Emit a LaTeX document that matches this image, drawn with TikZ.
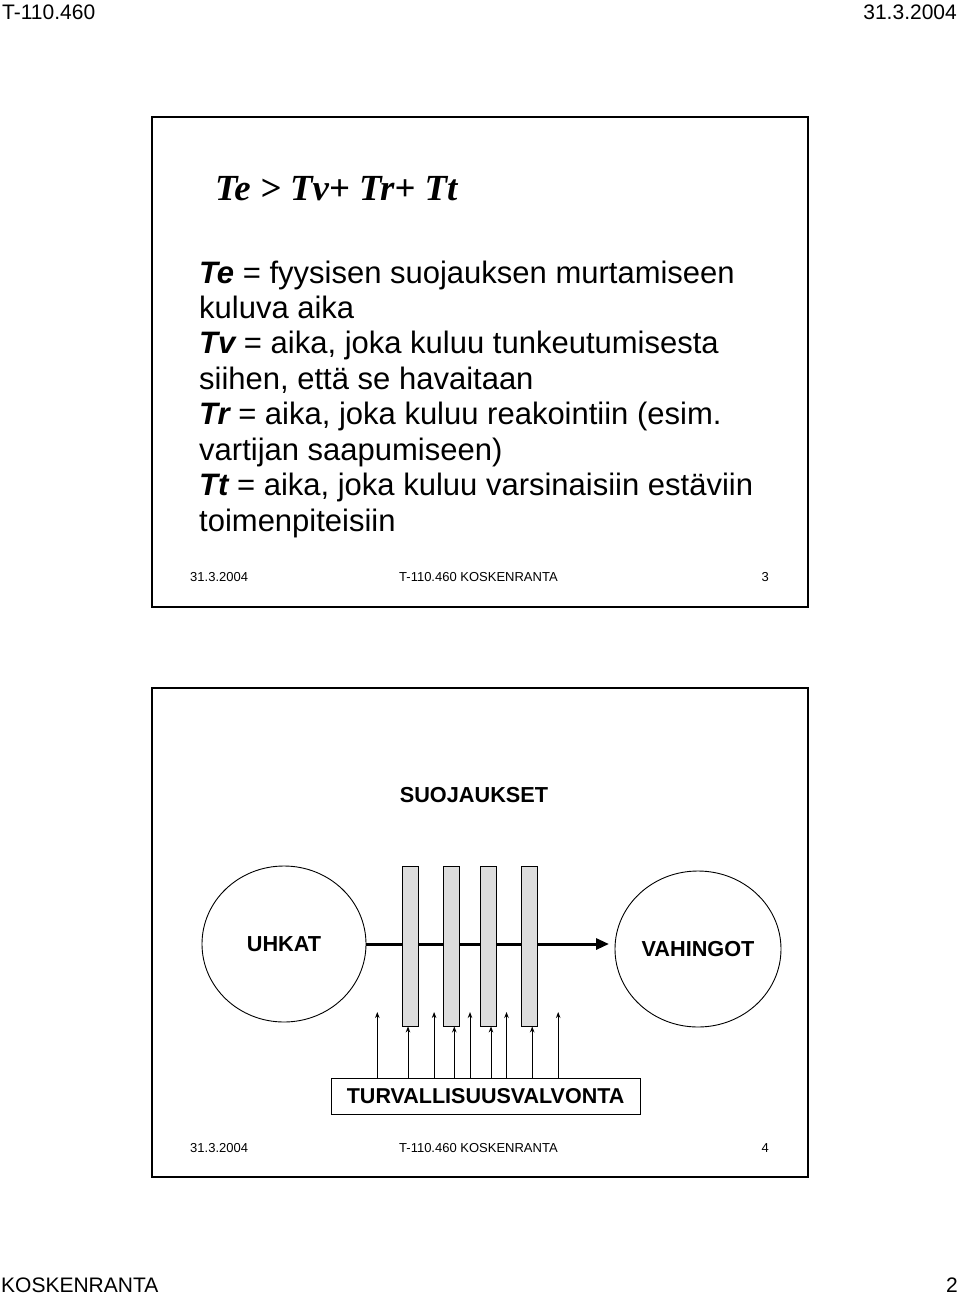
\documentclass[tikz,border=0pt]{standalone}
\usepackage{fontspec}
\setmainfont{Liberation Sans}
\newfontfamily\timesf{Liberation Serif}
\usetikzlibrary{arrows.meta,shapes.geometric}
\definecolor{bargray}{HTML}{DDDDDD}
\begin{document}
\begin{tikzpicture}[x=1pt,y=-1pt,
  frame/.style={draw,line width=2pt},
  pagetxt/.style={inner sep=0,font=\fontsize{21}{24}\selectfont},
  bodytxt/.style={anchor=base west,inner sep=0,font=\fontsize{31}{35}\selectfont},
  foot/.style={inner sep=0,font=\fontsize{13}{15}\selectfont},
  lbl/.style={inner sep=0,font=\fontsize{21.7}{24}\selectfont\bfseries},
  bar/.style={draw,fill=bargray,minimum width=16pt,minimum height=160pt,inner sep=0,line width=0.8pt},
  ell/.style={draw,ellipse,line width=0.9pt,inner sep=0,font=\fontsize{21.7}{24}\selectfont\bfseries},
  up/.style={-{Stealth[length=6pt,width=4.5pt]},line width=1pt}
]
\useasboundingbox (0,0) rectangle (960,1296);

% page header / footer
\node[pagetxt,anchor=base west] (hl) at (2,19.5) {T-110.460};
\node[pagetxt,anchor=base east] (hr) at (957,19.5) {31.3.2004};
\node[pagetxt,anchor=base west] (fl) at (1,1292.5) {KOSKENRANTA};
\node[pagetxt,anchor=base east] (fr) at (958,1292.5) {2};

% ---------- slide 3 ----------
\draw[frame] (152,117) rectangle (808,607);
\node[anchor=base west,inner sep=0,font=\timesf\bfseries\itshape\fontsize{36.8}{40}\selectfont] (eq) at (215,200) {Te > Tv+ Tr+ Tt};

\node[bodytxt] (l1) at (199,283.0) {{\bfseries\itshape Te} = fyysisen suojauksen murtamiseen};
\node[bodytxt] (l2) at (199,318.4) {kuluva aika};
\node[bodytxt] (l3) at (199,353.9) {{\bfseries\itshape Tv} = aika, joka kuluu tunkeutumisesta};
\node[bodytxt] (l4) at (199,389.3) {siihen, että se havaitaan};
\node[bodytxt] (l5) at (199,424.7) {{\bfseries\itshape Tr} = aika, joka kuluu reakointiin (esim.};
\node[bodytxt] (l6) at (199,460.2) {vartijan saapumiseen)};
\node[bodytxt] (l7) at (199,495.6) {{\bfseries\itshape Tt} = aika, joka kuluu varsinaisiin estäviin};
\node[bodytxt] (l8) at (199,531.0) {toimenpiteisiin};

\node[foot,anchor=base west] (d3) at (190,581) {31.3.2004};
\node[foot,anchor=base west] (c3) at (399,581) {T-110.460 KOSKENRANTA};
\node[foot,anchor=base east] (n3) at (769,581) {3};

% ---------- slide 4 ----------
\draw[frame] (152,688) rectangle (808,1177);
\node[lbl] (suo) at (474,795) {SUOJAUKSET};

\node[ell,minimum width=164pt,minimum height=156pt] (uh) at (284,944) {UHKAT};
\node[ell,minimum width=166pt,minimum height=156pt] (va) at (698,949) {VAHINGOT};

\coordinate (tip) at (609,944);
\draw[line width=3pt,-{Triangle[length=13pt,width=11pt]}] (uh.east) -- (tip);

\node[bar] (b1) at (410.5,946) {};
\node[bar] (b2) at (451.8,946) {};
\node[bar] (b3) at (488,946) {};
\node[bar] (b4) at (529.6,946) {};

\node[draw,line width=0.8pt,minimum width=309pt,minimum height=36pt,inner sep=0,font=\fontsize{21.5}{24}\selectfont\bfseries] (tv) at (485.6,1096) {TURVALLISUUSVALVONTA};

\coordinate (a1) at (377.3,1012);
\coordinate (a2) at (434.1,1012);
\coordinate (a3) at (470,1012);
\coordinate (a4) at (506.5,1012);
\coordinate (a5) at (558.2,1012);
\foreach \c in {a1,a2,a3,a4,a5}
  \draw[up] (tv.north -| \c) -- (\c);
\foreach \b/\x in {b1/408,b2/454.3,b3/491,b4/532.2}
  \draw[up] (tv.north -| \x,0) -- (\b.south -| \x,0);

\node[foot,anchor=base west] (d4) at (190,1152) {31.3.2004};
\node[foot,anchor=base west] (c4) at (399,1152) {T-110.460 KOSKENRANTA};
\node[foot,anchor=base east] (n4) at (769,1152) {4};
\end{tikzpicture}
\end{document}
